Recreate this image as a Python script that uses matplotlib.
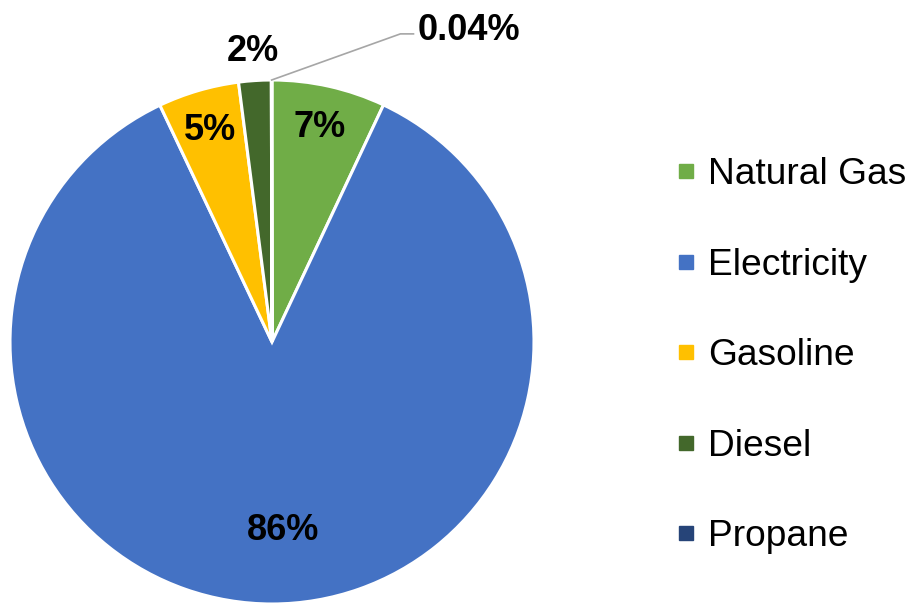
import numpy as np
import matplotlib.pyplot as plt
from matplotlib.lines import Line2D

plt.rcParams['font.family'] = ['Liberation Sans', 'DejaVu Sans']

# fuel shares (%)
fuels = ['Natural Gas', 'Electricity', 'Gasoline', 'Diesel', 'Propane']
shares = [7, 86, 5, 2, 0.04]
labels = ['7%', '86%', '5%', '2%', '0.04%']
colors = ['#70AD47', '#4472C4', '#FFC000', '#43682B', '#264478']

fig = plt.figure(figsize=(9.06, 6.07), dpi=100)
ax = fig.add_axes([10/906, 3/607, 524/906, 524/607])

wedges, _ = ax.pie(shares, colors=colors, startangle=90, counterclock=False,
                   radius=1, wedgeprops=dict(edgecolor='white', linewidth=2.2))
ax.set_xlim(-1, 1)
ax.set_ylim(-1, 1)
ax.set_aspect('equal')

# label radius for each slice, 2% and 0.04% sit outside
lab_r = [0.84, 0.72, 0.84, 1.11, None]
for w, lab, r in zip(wedges, labels, lab_r):
    mid = np.deg2rad((w.theta1 + w.theta2) / 2)
    if r is None:
        # propane: leader line out to the upper right
        x0, y0 = np.cos(mid), np.sin(mid)
        ax.plot([x0, 0.49, 0.54], [y0, 1.176, 1.176], color='#A6A6A6', lw=1.2,
                clip_on=False)
        ax.text(0.555, 1.19, lab, fontsize=26, fontweight='bold',
                ha='left', va='center')
        continue
    ax.text(r * np.cos(mid) + (0.04 if r < 0.8 else 0), r * np.sin(mid), lab,
            fontsize=26, fontweight='bold', ha='center', va='center')

handles = [Line2D([], [], marker='s', ls='', markersize=9.5, color=c) for c in colors]
fig.legend(handles, fuels, loc='center left', bbox_to_anchor=(0.745, 0.414),
           frameon=False, fontsize=26.7, labelspacing=1.5, handlelength=0.6,
           handletextpad=0.3, borderaxespad=0, borderpad=0)

fig.savefig('out.png', dpi=100)
